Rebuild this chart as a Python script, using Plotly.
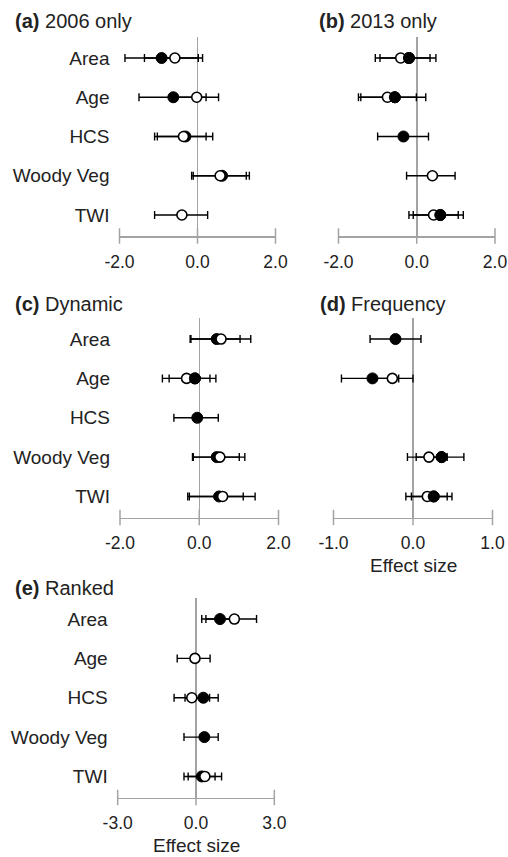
import plotly.graph_objects as go

W, H = 508, 857
FONT = "Liberation Sans, Arial, sans-serif"
TXT = "#222222"

rows = ["Area", "Age", "HCS", "Woody Veg", "TWI"]

# (a) 2006 only
a_filled = [-0.92, -0.62, -0.31, 0.63, None]
a_filled_lo = [-1.86, -1.50, -1.03, -0.11, None]
a_filled_hi = [0.02, 0.22, 0.39, 1.33, None]
a_open = [-0.58, -0.02, -0.36, 0.58, -0.40]
a_open_lo = [-1.36, -0.58, -1.10, -0.15, -1.10]
a_open_hi = [0.13, 0.54, 0.22, 1.25, 0.26]

# (b) 2013 only
b_filled = [-0.20, -0.56, -0.34, None, 0.60]
b_filled_lo = [-0.94, -1.43, -1.00, None, -0.09]
b_filled_hi = [0.49, 0.23, 0.30, None, 1.19]
b_open = [-0.41, -0.75, None, 0.40, 0.43]
b_open_lo = [-1.06, -1.49, None, -0.26, -0.20]
b_open_hi = [0.34, -0.01, None, 0.98, 1.06]

# (c) Dynamic
c_filled = [0.44, -0.11, -0.05, 0.44, 0.50]
c_filled_lo = [-0.21, -0.76, -0.64, -0.17, -0.25]
c_filled_hi = [1.03, 0.42, 0.48, 1.01, 1.11]
c_open = [0.55, -0.32, None, 0.52, 0.59]
c_open_lo = [-0.23, -0.93, None, -0.15, -0.29]
c_open_hi = [1.30, 0.27, None, 1.15, 1.41]

# (d) Frequency
d_filled = [-0.22, -0.51, None, 0.36, 0.26]
d_filled_lo = [-0.54, -0.90, None, 0.04, -0.02]
d_filled_hi = [0.10, -0.18, None, 0.64, 0.49]
d_open = [None, -0.26, None, 0.20, 0.18]
d_open_lo = [None, -0.52, None, -0.07, -0.09]
d_open_hi = [None, 0.00, None, 0.43, 0.43]

# (e) Ranked
e_filled = [0.92, None, 0.28, 0.32, 0.22]
e_filled_lo = [0.22, None, -0.42, -0.46, -0.46]
e_filled_hi = [1.62, None, 0.85, 0.85, 0.73]
e_open = [1.47, -0.04, -0.16, None, 0.34]
e_open_lo = [0.38, -0.72, -0.84, None, -0.30]
e_open_hi = [2.32, 0.54, 0.52, None, 0.98]

# rows where the filled marker sits above the open one
a_filled_top = []
b_filled_top = [0, 1, 4]
c_filled_top = [1]
d_filled_top = [3, 4]
e_filled_top = []

ticks_2 = [-2, 0, 2]
ticks_2_text = ["-2.0", "0.0", "2.0"]
ticks_1 = [-1, 0, 1]
ticks_1_text = ["-1.0", "0.0", "1.0"]
ticks_3 = [-3, 0, 3]
ticks_3_text = ["-3.0", "0.0", "3.0"]

titles = [("(a)", "2006 only"), ("(b)", "2013 only"), ("(c)", "Dynamic"),
          ("(d)", "Frequency"), ("(e)", "Ranked")]
x_title = "Effect size"

GRAY = "#a3a3a3"
ROWF = 19
TICKF = 17.5
TITF = 20
EFFF = 19
PAD = 0.535


def px(x):
    return x / W


def py(y):
    return 1 - y / H


panels = [
    dict(v=(a_filled, a_filled_lo, a_filled_hi, a_open, a_open_lo, a_open_hi), top=a_filled_top,
         tv=ticks_2, tt=ticks_2_text, xpx=(119.5, 275.5), ypx=(37, 236), labels=True,
         tpos=(13, 21), eff=None),
    dict(v=(b_filled, b_filled_lo, b_filled_hi, b_open, b_open_lo, b_open_hi), top=b_filled_top,
         tv=ticks_2, tt=ticks_2_text, xpx=(338.5, 495), ypx=(37, 236), labels=False,
         tpos=(317, 21), eff=None),
    dict(v=(c_filled, c_filled_lo, c_filled_hi, c_open, c_open_lo, c_open_hi), top=c_filled_top,
         tv=ticks_2, tt=ticks_2_text, xpx=(120, 278.5), ypx=(318, 517.5), labels=True,
         tpos=(13, 304), eff=None),
    dict(v=(d_filled, d_filled_lo, d_filled_hi, d_open, d_open_lo, d_open_hi), top=d_filled_top,
         tv=ticks_1, tt=ticks_1_text, xpx=(333.5, 492.5), ypx=(318, 517.5), labels=False,
         tpos=(318, 304), eff=565),
    dict(v=(e_filled, e_filled_lo, e_filled_hi, e_open, e_open_lo, e_open_hi), top=e_filled_top,
         tv=ticks_3, tt=ticks_3_text, xpx=(117.7, 274.3), ypx=(598, 797.5), labels=True,
         tpos=(13, 588), eff=845),
]

fig = go.Figure()
annotations = []
ypos = list(range(len(rows)))


def err(vals, lo, hi):
    plus = [None if v is None else h - v for v, h in zip(vals, hi)]
    minus = [None if v is None else v - l for v, l in zip(vals, lo)]
    return plus, minus


for i, p in enumerate(panels):
    n = i + 1
    xa = "x" if n == 1 else f"x{n}"
    ya = "y" if n == 1 else f"y{n}"
    fv, flo, fhi, ov, olo, ohi = p["v"]
    ybot = len(rows) - 1 + PAD

    # axis ticks crossing the axis line
    fig.add_trace(go.Scatter(x=p["tv"], y=[ybot] * len(p["tv"]), mode="markers",
                             marker=dict(symbol="line-ns-open", size=11, color=GRAY,
                                         line=dict(color=GRAY, width=1.5)),
                             cliponaxis=False, hoverinfo="skip", xaxis=xa, yaxis=ya))
    fp, fm = err(fv, flo, fhi)
    fig.add_trace(go.Scatter(x=fv, y=ypos, mode="markers", xaxis=xa, yaxis=ya,
                             marker=dict(symbol="circle", size=11, color="black",
                                         line=dict(color="black", width=1)),
                             error_x=dict(type="data", array=fp, arrayminus=fm, symmetric=False,
                                          color="black", thickness=1.4, width=4),
                             cliponaxis=False))
    op, om = err(ov, olo, ohi)
    fig.add_trace(go.Scatter(x=ov, y=ypos, mode="markers", xaxis=xa, yaxis=ya,
                             marker=dict(symbol="circle", size=10, color="white",
                                         line=dict(color="black", width=1.6)),
                             error_x=dict(type="data", array=op, arrayminus=om, symmetric=False,
                                          color="black", thickness=1.4, width=4),
                             cliponaxis=False))
    if p["top"]:
        fig.add_trace(go.Scatter(x=[fv[k] for k in p["top"]], y=[ypos[k] for k in p["top"]],
                                 mode="markers", xaxis=xa, yaxis=ya,
                                 marker=dict(symbol="circle", size=11, color="black",
                                             line=dict(color="black", width=1)),
                                 cliponaxis=False))

    x0, x1 = p["xpx"]
    yt, yb = p["ypx"]
    fig.layout[("xaxis" if n == 1 else f"xaxis{n}")] = dict(
        domain=[px(x0), px(x1)], range=[p["tv"][0], p["tv"][-1]], anchor=ya,
        tickvals=p["tv"], ticktext=p["tt"], ticks="", showgrid=False,
        zeroline=True, zerolinecolor=GRAY, zerolinewidth=1.5,
        showline=True, linecolor=GRAY, linewidth=1.5, ticklabeloverflow="allow",
        tickfont=dict(family=FONT, size=TICKF, color=TXT), ticklabelstandoff=9,
        fixedrange=True)
    fig.layout[("yaxis" if n == 1 else f"yaxis{n}")] = dict(
        domain=[py(yb), py(yt)], range=[ybot, -PAD], anchor=xa,
        tickvals=ypos, ticktext=rows, showticklabels=p["labels"], ticks="",
        showgrid=False, zeroline=False, showline=False,
        tickfont=dict(family=FONT, size=ROWF, color=TXT), ticklabelstandoff=9,
        fixedrange=True)

    tx, ty = p["tpos"]
    annotations.append(dict(text=f"<b>{titles[i][0]}</b> {titles[i][1]}", xref="paper", yref="paper",
                            x=px(tx), y=py(ty), xanchor="left", yanchor="middle",
                            showarrow=False, font=dict(family=FONT, size=TITF, color=TXT)))
    if p["eff"] is not None:
        annotations.append(dict(text=x_title, xref=xa, yref="paper", x=0,
                                y=py(p["eff"]), xanchor="center", yanchor="middle",
                                showarrow=False, font=dict(family=FONT, size=EFFF, color=TXT)))

fig.update_layout(width=W, height=H, margin=dict(l=0, r=0, t=0, b=0),
                  paper_bgcolor="white", plot_bgcolor="white", showlegend=False,
                  annotations=annotations, template="none", hovermode=False)

fig.write_html("out.html", config={"displayModeBar": False, "staticPlot": True},
               post_script="document.body.style.margin='0';document.body.style.overflow='hidden';")
